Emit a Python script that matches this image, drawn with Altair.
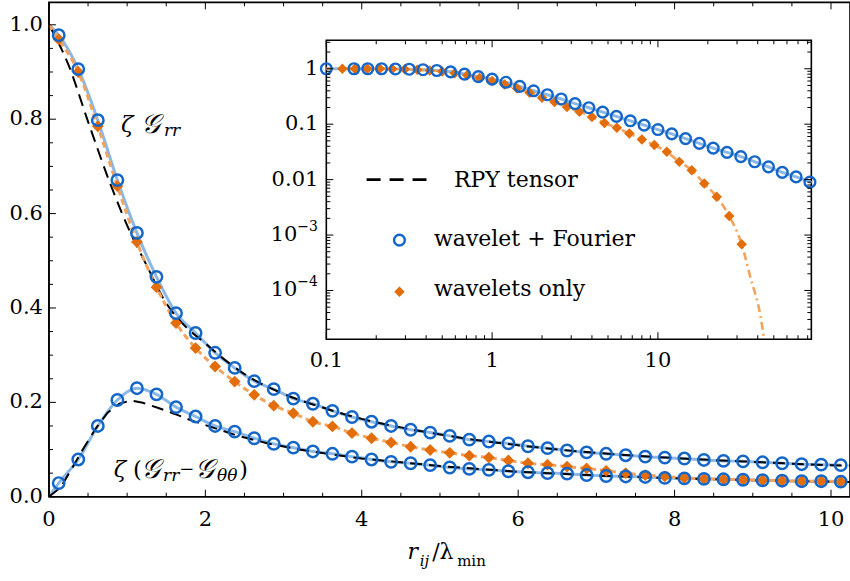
import altair as alt
import pandas as pd

# ---------------- main plot data ----------------
X_MAIN = [0.125, 0.375, 0.625, 0.875, 1.125, 1.375, 1.625, 1.875, 2.125, 2.375,
          2.625, 2.875, 3.125, 3.375, 3.625, 3.875, 4.125, 4.375, 4.625, 4.875,
          5.125, 5.375, 5.625, 5.875, 6.125, 6.375, 6.625, 6.875, 7.125, 7.375,
          7.625, 7.875, 8.125, 8.375, 8.625, 8.875, 9.125, 9.375, 9.625, 9.875, 10.125]
GRR_CIRC = [0.978, 0.906, 0.798, 0.671, 0.559, 0.466, 0.389, 0.347, 0.305, 0.273,
            0.245, 0.228, 0.208, 0.197, 0.182, 0.169, 0.159, 0.150, 0.142, 0.136,
            0.129, 0.121, 0.117, 0.113, 0.107, 0.103, 0.098, 0.094, 0.091, 0.088,
            0.085, 0.083, 0.081, 0.078, 0.076, 0.075, 0.073, 0.071, 0.069, 0.068, 0.067]
GRR_DIAM = [0.969, 0.900, 0.785, 0.658, 0.540, 0.444, 0.368, 0.315, 0.276, 0.244,
            0.216, 0.193, 0.177, 0.159, 0.149, 0.135, 0.124, 0.115, 0.106, 0.099,
            0.093, 0.087, 0.083, 0.077, 0.071, 0.068, 0.064, 0.060, 0.055, 0.050,
            0.046, 0.043, 0.040, 0.038, 0.037, 0.036, 0.035, 0.034, 0.033, 0.033, 0.032]
DIFF_CIRC = [0.029, 0.079, 0.150, 0.205, 0.230, 0.217, 0.190, 0.170, 0.150, 0.138,
             0.124, 0.112, 0.104, 0.096, 0.091, 0.085, 0.079, 0.074, 0.071, 0.067,
             0.062, 0.059, 0.057, 0.054, 0.052, 0.050, 0.049, 0.046, 0.044, 0.043,
             0.042, 0.040, 0.039, 0.038, 0.037, 0.036, 0.035, 0.034, 0.033, 0.033, 0.032]
GRR_START = [0.0, 1.0]
DIFF_START = [0.0, 0.0]

RPY_GRR_X = [0, 0.25, 0.5, 0.78, 1.0, 1.25, 1.5, 1.75, 2.0, 2.25, 2.5, 3.0, 3.5, 4.0,
             4.5, 5.0, 6.0, 7.0, 8.0, 9.0, 10.0, 10.25]
RPY_GRR_Y = [1.0, 0.915, 0.795, 0.665, 0.575, 0.49, 0.41, 0.36, 0.325, 0.29, 0.26, 0.218,
             0.189, 0.165, 0.147, 0.132, 0.109, 0.093, 0.082, 0.074, 0.067, 0.066]
RPY_DIFF_X = [0, 0.15, 0.3, 0.45, 0.6, 0.75, 0.9, 1.05, 1.2, 1.4, 1.6, 1.8, 2.0, 2.4,
              2.8, 3.2, 3.6, 4.0, 4.5, 5.0, 6.0, 7.0, 8.0, 9.0, 10.0, 10.25]
RPY_DIFF_Y = [0.0, 0.02, 0.062, 0.105, 0.145, 0.178, 0.197, 0.204, 0.199, 0.188, 0.176,
              0.163, 0.152, 0.130, 0.113, 0.100, 0.090, 0.081, 0.073, 0.065, 0.053,
              0.045, 0.039, 0.035, 0.032, 0.031]

MAIN_X_TICKS = [0, 2, 4, 6, 8, 10]
MAIN_X_LABELS = ["0", "2", "4", "6", "8", "10"]
MAIN_Y_TICKS = [0.0, 0.2, 0.4, 0.6, 0.8, 1.0]
MAIN_Y_LABELS = ["0.0", "0.2", "0.4", "0.6", "0.8", "1.0"]
MAIN_X_MINOR = [0.5, 1, 1.5, 2.5, 3, 3.5, 4.5, 5, 5.5, 6.5, 7, 7.5, 8.5, 9, 9.5]
MAIN_Y_MINOR = [0.05, 0.1, 0.15, 0.25, 0.3, 0.35, 0.45, 0.5, 0.55, 0.65, 0.7, 0.75,
                0.85, 0.9, 0.95]

# ---------------- inset data ----------------
IN_CIRC_X = [0.1, 0.1468, 0.1778, 0.2154, 0.2610, 0.3162, 0.3831, 0.4642, 0.5623,
             0.6813, 0.8254, 1.0, 1.2115, 1.4678, 1.7783, 2.1544, 2.6102, 3.1623,
             3.8312, 4.6416, 5.6234, 6.8129, 8.2540, 10.0, 12.115, 14.678, 17.783,
             21.544, 26.102, 31.623, 38.312, 46.416, 56.234, 68.129, 82.540]
IN_CIRC_Y = [1.0, 1.0, 1.0, 1.0, 0.99, 0.98, 0.96, 0.93, 0.88, 0.80, 0.72, 0.65, 0.57,
             0.48, 0.40, 0.34, 0.285, 0.235, 0.198, 0.165, 0.138, 0.115, 0.096, 0.080,
             0.067, 0.055, 0.045, 0.037, 0.031, 0.026, 0.021, 0.017, 0.0135, 0.0112,
             0.0090]
IN_LINE_END = [84.2, 0.0087]
IN_DIAM_X = [0.125, 0.1487, 0.1768, 0.2102, 0.25, 0.2973, 0.3536, 0.4204, 0.5, 0.5946,
             0.7071, 0.8409, 1.0, 1.1892, 1.4142, 1.6818, 2.0, 2.3784, 2.8284, 3.3636,
             4.0, 4.7568, 5.6569, 6.7272, 8.0, 9.5137, 11.314, 13.454, 16.0, 19.027,
             22.627, 26.909, 32.0]
IN_DIAM_Y = [1.0, 1.0, 1.0, 1.0, 0.99, 0.98, 0.96, 0.93, 0.89, 0.83, 0.76, 0.68, 0.60,
             0.52, 0.44, 0.37, 0.30, 0.25, 0.205, 0.167, 0.135, 0.105, 0.086, 0.068,
             0.053, 0.042, 0.0317, 0.0209, 0.0148, 0.0085, 0.0049, 0.0022, 0.00068]
IN_TAIL_X = [36.0, 42.4, 43.6]
IN_TAIL_Y = [1.8e-4, 2.4e-5, 1.32e-5]

IN_X_TICKS = [0.1, 1, 10]
IN_X_LABELS = ["0.1", "1", "10"]
IN_Y_TICKS = [1, 0.1, 0.01, 0.001, 0.0001]
IN_Y_LABELS = ["1", "0.1", "0.01", "10", "10"]
IN_Y_EXP_TICKS = [0.001, 0.0001]
IN_Y_EXP_LABELS = ["−3", "−4"]
IN_X_MINOR = [0.2, 0.3, 0.4, 0.5, 0.6, 0.7, 0.8, 0.9, 2, 3, 4, 5, 6, 7, 8, 9,
              20, 30, 40, 50, 60, 70, 80]
IN_Y_MINOR = [2e-5, 3e-5, 4e-5, 5e-5, 6e-5, 7e-5, 8e-5, 9e-5,
              2e-4, 3e-4, 4e-4, 5e-4, 6e-4, 7e-4, 8e-4, 9e-4,
              2e-3, 3e-3, 4e-3, 5e-3, 6e-3, 7e-3, 8e-3, 9e-3,
              0.02, 0.03, 0.04, 0.05, 0.06, 0.07, 0.08, 0.09,
              0.2, 0.3, 0.4, 0.5, 0.6, 0.7, 0.8, 0.9, 2, 3]
IN_DOMAIN_X = [0.1, 84.2]
IN_DOMAIN_Y = [1.32e-5, 3.26]

LEGEND_LABELS = ["RPY tensor", "wavelet + Fourier", "wavelets only"]

# annotation pieces: text, x, y (main data coordinates), font size, italic?
ANN_TEXT = ["ζ", "𝒢", "rr",
            "ζ", "(", "𝒢", "rr", "−", "𝒢", "θθ", ")",
            "r", "ij", "/λ", "min"]
ANN_X = [0.920, 1.175, 1.470,
         0.830, 1.075, 1.180, 1.460, 1.665, 1.870, 2.150, 2.430,
         4.585, 4.740, 4.900, 5.220]
ANN_Y = [0.787, 0.787, 0.775,
         0.057, 0.057, 0.057, 0.044, 0.057, 0.057, 0.044, 0.057,
         -0.117, -0.136, -0.117, -0.136]
ANN_SIZE = [23, 27, 17,
            23, 23, 27, 17, 18, 27, 17, 23,
            22, 15, 22, 15]
ANN_ITALIC = [True, True, True,
              True, False, True, True, False, True, True, False,
              True, True, False, False]

# ---------------- styling ----------------
FONT = "DejaVu Serif"
BLUE = "#1466c8"
LBLUE = "#8bb8e6"
ORANGE = "#e26d0a"
LORANGE = "#f2a35e"
W, H = 802, 495
IN_L, IN_R, IN_T, IN_B = 277.7, 763.3, 38.0, 337.3
LABEL_SIZE = 21

XM = alt.Scale(domain=[0, 10.243], nice=False, zero=False)
YM = alt.Scale(domain=[0, 1.0476], nice=False, zero=False)
XI = alt.Scale(type="log", domain=IN_DOMAIN_X, range=[IN_L, IN_R], nice=False)
YI = alt.Scale(type="log", domain=IN_DOMAIN_Y, range=[IN_B, IN_T], nice=False)


def df(xs, ys):
    return pd.DataFrame({"x": xs, "y": ys})


def mx():
    return alt.X("x:Q", scale=XM, axis=None)


def my():
    return alt.Y("y:Q", scale=YM, axis=None)


def ix():
    return alt.X("x:Q", scale=XI, axis=None)


def iy():
    return alt.Y("y:Q", scale=YI, axis=None)


grr_line = df([GRR_START[0]] + X_MAIN, [GRR_START[1]] + GRR_CIRC)
diff_line = df([DIFF_START[0]] + X_MAIN, [DIFF_START[1]] + DIFF_CIRC)
diam_line = df([GRR_START[0]] + X_MAIN, [GRR_START[1]] + GRR_DIAM)

m_blue1 = alt.Chart(grr_line).mark_line(color=LBLUE, strokeWidth=3, interpolate="monotone").encode(
    x=mx(), y=my())
m_blue2 = alt.Chart(diff_line).mark_line(color=LBLUE, strokeWidth=3, interpolate="monotone").encode(
    x=mx(), y=my())
m_rpy1 = alt.Chart(df(RPY_GRR_X, RPY_GRR_Y)).mark_line(
    color="black", strokeWidth=2, strokeDash=[12, 7], interpolate="monotone").encode(x=mx(), y=my())
m_rpy2 = alt.Chart(df(RPY_DIFF_X, RPY_DIFF_Y)).mark_line(
    color="black", strokeWidth=2, strokeDash=[12, 7]).encode(x=mx(), y=my())
m_or = alt.Chart(diam_line).mark_line(color=LORANGE, strokeWidth=3, strokeDash=[6, 4],
                                      interpolate="monotone").encode(x=mx(), y=my())
m_diam = alt.Chart(df(X_MAIN, GRR_DIAM)).mark_point(
    shape="diamond", filled=True, color=ORANGE, size=140, opacity=1).encode(x=mx(), y=my())
m_c1 = alt.Chart(df(X_MAIN, GRR_CIRC)).mark_point(
    shape="circle", filled=False, color=BLUE, size=130, strokeWidth=2.5, opacity=1).encode(x=mx(), y=my())
m_c2 = alt.Chart(df(X_MAIN, DIFF_CIRC)).mark_point(
    shape="circle", filled=False, color=BLUE, size=130, strokeWidth=2.5, opacity=1).encode(x=mx(), y=my())


def vticks(vals, y0, y1, scale_x, width=1):
    return alt.Chart(pd.DataFrame({"x": vals})).mark_rule(color="black", strokeWidth=width).encode(
        x=alt.X("x:Q", scale=scale_x, axis=None), y=alt.value(y0), y2=alt.value(y1))


def hticks(vals, x0, x1, scale_y, width=1):
    return alt.Chart(pd.DataFrame({"y": vals})).mark_rule(color="black", strokeWidth=width).encode(
        y=alt.Y("y:Q", scale=scale_y, axis=None), x=alt.value(x0), x2=alt.value(x1))


def xlabels(vals, texts, ypix, scale_x):
    return alt.Chart(pd.DataFrame({"x": vals, "t": texts})).mark_text(
        font=FONT, fontSize=LABEL_SIZE, align="center", baseline="middle", color="black").encode(
        x=alt.X("x:Q", scale=scale_x, axis=None), y=alt.value(ypix), text="t:N")


def ylabels(vals, texts, xpix, scale_y, size=LABEL_SIZE, dy=0, align="right"):
    return alt.Chart(pd.DataFrame({"y": vals, "t": texts})).mark_text(
        font=FONT, fontSize=size, align=align, baseline="middle", color="black", dy=dy).encode(
        y=alt.Y("y:Q", scale=scale_y, axis=None), x=alt.value(xpix), text="t:N")


main_axes = [
    vticks([0], 0, H, XM, width=1.6),
    hticks([0], 0, W, YM, width=1.6),
    vticks(MAIN_X_TICKS, H, H - 7, XM), vticks(MAIN_X_MINOR, H, H - 4, XM),
    vticks(MAIN_X_TICKS, 0, 7, XM), vticks(MAIN_X_MINOR, 0, 4, XM),
    hticks(MAIN_Y_TICKS, 0, 7, YM), hticks(MAIN_Y_MINOR, 0, 4, YM),
    xlabels(MAIN_X_TICKS, MAIN_X_LABELS, H + 23, XM),
    ylabels(MAIN_Y_TICKS, MAIN_Y_LABELS, -6, YM),
]

ann = pd.DataFrame({"x": ANN_X, "y": ANN_Y, "t": ANN_TEXT, "s": ANN_SIZE, "it": ANN_ITALIC})
a_it = alt.Chart(ann[ann["it"]]).mark_text(font=FONT, fontStyle="italic", align="left",
                                           baseline="middle", color="black").encode(
    x=mx(), y=my(), text="t:N", size=alt.Size("s:Q", scale=None, legend=None))
a_up = alt.Chart(ann[~ann["it"]]).mark_text(font=FONT, align="left",
                                            baseline="middle", color="black").encode(
    x=mx(), y=my(), text="t:N", size=alt.Size("s:Q", scale=None, legend=None))

main = alt.layer(m_blue1, m_blue2, m_rpy1, m_rpy2, m_or, m_diam, m_c1, m_c2,
                 *main_axes, a_it, a_up)

# ---------------- inset ----------------
frame = alt.Chart(pd.DataFrame({"x": [IN_DOMAIN_X[0]], "x2": [IN_DOMAIN_X[1]],
                                "y": [IN_DOMAIN_Y[0]], "y2": [IN_DOMAIN_Y[1]]})).mark_rect(
    fill="white", stroke="black", strokeWidth=1.6).encode(
    x=ix(), x2="x2:Q", y=iy(), y2="y2:Q")

i_blue = alt.Chart(df(IN_CIRC_X + [IN_LINE_END[0]], IN_CIRC_Y + [IN_LINE_END[1]])).mark_line(
    color=LBLUE, strokeWidth=3, interpolate="monotone").encode(x=ix(), y=iy())
i_or = alt.Chart(df([0.1] + IN_DIAM_X + IN_TAIL_X, [1.0] + IN_DIAM_Y + IN_TAIL_Y)).mark_line(
    color=LORANGE, strokeWidth=2.6, strokeDash=[8, 4, 2, 4], interpolate="monotone").encode(
    x=ix(), y=iy())
i_diam = alt.Chart(df(IN_DIAM_X, IN_DIAM_Y)).mark_point(
    shape="diamond", filled=True, color=ORANGE, size=110, opacity=1).encode(x=ix(), y=iy())
i_circ = alt.Chart(df(IN_CIRC_X, IN_CIRC_Y)).mark_point(
    shape="circle", filled=False, color=BLUE, size=115, strokeWidth=2.4, opacity=1).encode(
    x=ix(), y=iy())

inset_axes = [
    vticks(IN_X_TICKS, IN_B, IN_B - 7, XI), vticks(IN_X_MINOR, IN_B, IN_B - 4, XI),
    vticks(IN_X_TICKS, IN_T, IN_T + 7, XI), vticks(IN_X_MINOR, IN_T, IN_T + 4, XI),
    hticks(IN_Y_TICKS, IN_L, IN_L + 7, YI), hticks(IN_Y_MINOR, IN_L, IN_L + 4, YI),
    hticks(IN_Y_TICKS, IN_R, IN_R - 7, YI), hticks(IN_Y_MINOR, IN_R, IN_R - 4, YI),
    xlabels(IN_X_TICKS, IN_X_LABELS, IN_B + 22, XI),
    ylabels(IN_Y_TICKS[:3], IN_Y_LABELS[:3], IN_L - 8, YI),
    ylabels(IN_Y_TICKS[3:], IN_Y_LABELS[3:], IN_L - 29, YI),
    ylabels(IN_Y_EXP_TICKS, IN_Y_EXP_LABELS, IN_L - 29, YI, size=14, dy=-8, align="left"),
]

# legend (placed in inset data coordinates)
leg_dash = alt.Chart(pd.DataFrame({"x": [0.175], "x2": [0.402], "y": [0.0100]})).mark_rule(
    color="black", strokeWidth=2.6, strokeDash=[14, 9]).encode(x=ix(), x2="x2:Q", y=iy())
leg_circ = alt.Chart(df([0.276], [8.1e-4])).mark_point(
    shape="circle", filled=False, color=BLUE, size=115, strokeWidth=2.4, opacity=1).encode(
    x=ix(), y=iy())
leg_diam = alt.Chart(df([0.276], [9.5e-5])).mark_point(
    shape="diamond", filled=True, color=ORANGE, size=110, opacity=1).encode(x=ix(), y=iy())
leg_text = alt.Chart(pd.DataFrame({"x": [0.589, 0.446, 0.446],
                                   "y": [0.0098, 8.4e-4, 1.05e-4],
                                   "t": LEGEND_LABELS})).mark_text(
    font=FONT, fontSize=22, align="left", baseline="middle", color="black").encode(
    x=ix(), y=iy(), text="t:N")

inset = alt.layer(frame, i_blue, i_or, i_diam, i_circ, *inset_axes,
                  leg_dash, leg_circ, leg_diam, leg_text)

chart = alt.layer(main, inset).resolve_scale(x="independent", y="independent").properties(
    width=W, height=H,
    autosize=alt.AutoSizeParams(type="none"),
    padding={"left": 49, "top": 2, "right": 0, "bottom": 84},
    background="white",
).configure_view(stroke="black", strokeWidth=1.6)

chart.save("out.html", embed_options={"renderer": "svg", "actions": False})
